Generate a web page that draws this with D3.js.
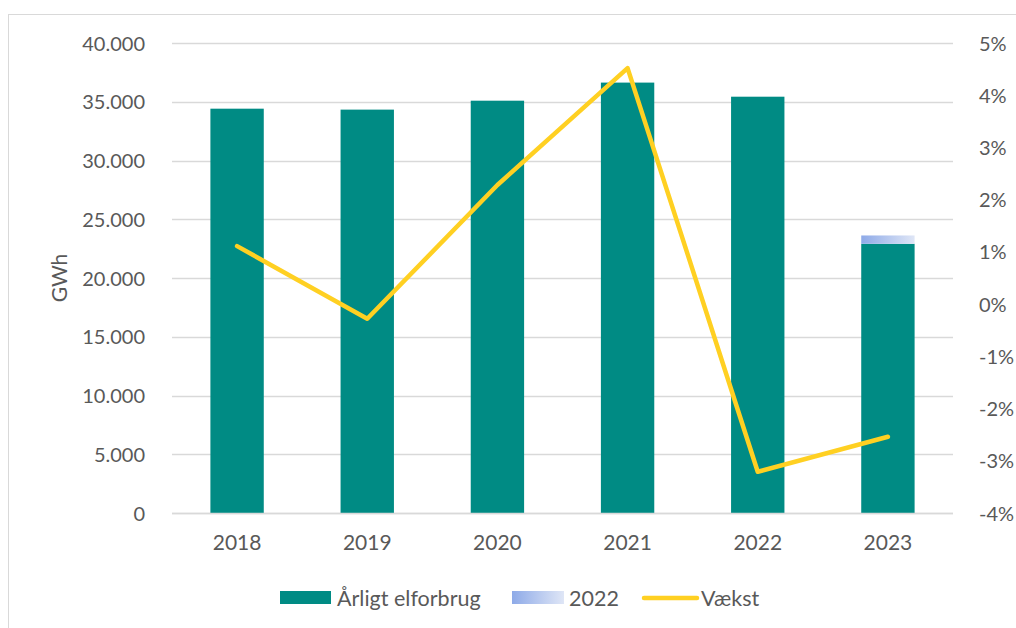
<!DOCTYPE html>
<html>
<head>
<meta charset="utf-8">
<script src="https://cdn.jsdelivr.net/npm/d3@7"></script>
<style>
  body { margin: 0; background: #fff; }
  svg text { font-family: Lato, "Noto Sans", sans-serif; fill: #595959; }
</style>
</head>
<body>
<div id="chart"></div>
<script>
const years = ['2018', '2019', '2020', '2021', '2022', '2023']
const consumption = [34410, 34330, 35090, 36630, 35430, 22910]
const extra2022 = [0, 0, 0, 0, 0, 710]
const growth = [1.11, -0.28, 2.28, 4.52, -3.21, -2.54]
const leftTicks = [0, 5000, 10000, 15000, 20000, 25000, 30000, 35000, 40000]
const rightTicks = [-4, -3, -2, -1, 0, 1, 2, 3, 4, 5]

const width = 1016
const height = 628
const plot = { left: 172, right: 953, top: 43, bottom: 513 }

const svg = d3.select('#chart')
  .append('svg')
    .attr('width', width)
    .attr('height', height)

const defs = svg.append('defs')
const grad = defs.append('linearGradient')
  .attr('id', 'blueGrad')
  .attr('x1', '0%').attr('x2', '100%')
grad.append('stop').attr('offset', '0%').attr('stop-color', '#8eaae8')
grad.append('stop').attr('offset', '100%').attr('stop-color', '#dfe6f6')

// chart frame
svg.append('rect')
  .attr('x', 8.5).attr('y', 14.5)
  .attr('width', 1040).attr('height', 640)
  .attr('fill', 'none')
  .attr('stroke', '#d9d9d9')
  .attr('stroke-width', 1)

const x = d3.scaleBand()
  .domain(years)
  .range([plot.left, plot.right])
  .paddingInner(0.59)
  .paddingOuter(0.295)

const yLeft = d3.scaleLinear()
  .domain([0, 40000])
  .range([plot.bottom, plot.top])

const yRight = d3.scaleLinear()
  .domain([-4, 5])
  .range([plot.bottom, plot.top])

// gridlines
svg.append('g')
  .selectAll('line')
  .data(leftTicks)
  .join('line')
    .attr('x1', plot.left)
    .attr('x2', plot.right)
    .attr('y1', d => Math.round(yLeft(d)) + 0.5)
    .attr('y2', d => Math.round(yLeft(d)) + 0.5)
    .attr('stroke', '#d9d9d9')
    .attr('stroke-width', 1.3)

// left axis
const fmt = d => d3.format(',')(d).replace(/,/g, '.')
svg.append('g')
  .attr('transform', `translate(${plot.left - 24},0)`)
  .call(d3.axisLeft(yLeft).tickValues(leftTicks).tickFormat(fmt).tickSize(0))
  .call(g => g.select('.domain').remove())
  .call(g => g.selectAll('text').attr('font-size', 20).attr('dy', '0.35em'))

// right axis
svg.append('g')
  .attr('transform', `translate(${plot.right + 23},0)`)
  .call(d3.axisRight(yRight).tickValues(rightTicks).tickFormat(d => d + '%').tickSize(0))
  .call(g => g.select('.domain').remove())
  .call(g => g.selectAll('text').attr('font-size', 20).attr('dy', '0.35em'))

// x axis labels
svg.append('g')
  .attr('transform', `translate(0,${plot.bottom + 14})`)
  .call(d3.axisBottom(x).tickSize(0))
  .call(g => g.select('.domain').remove())
  .call(g => g.selectAll('text').attr('font-size', 21).attr('dy', '0.95em'))

// y axis title
svg.append('text')
  .attr('transform', `translate(67,${(plot.top + plot.bottom) / 2}) rotate(-90)`)
  .attr('text-anchor', 'middle')
  .attr('font-size', 21)
  .text('GWh')

// bars
svg.append('g')
  .selectAll('rect')
  .data(years)
  .join('rect')
    .attr('x', d => x(d))
    .attr('width', x.bandwidth())
    .attr('y', (d, i) => yLeft(consumption[i]))
    .attr('height', (d, i) => yLeft(0) - yLeft(consumption[i]))
    .attr('fill', '#008b84')

svg.append('g')
  .selectAll('rect')
  .data(years)
  .join('rect')
    .attr('x', d => x(d))
    .attr('width', x.bandwidth())
    .attr('y', (d, i) => yLeft(consumption[i] + extra2022[i]))
    .attr('height', (d, i) => yLeft(consumption[i]) - yLeft(consumption[i] + extra2022[i]))
    .attr('fill', 'url(#blueGrad)')

// baseline
svg.append('line')
  .attr('x1', plot.left).attr('x2', plot.right)
  .attr('y1', plot.bottom + 0.5).attr('y2', plot.bottom + 0.5)
  .attr('stroke', '#d9d9d9')
  .attr('stroke-width', 1.5)

// growth line
svg.append('path')
  .datum(growth)
  .attr('fill', 'none')
  .attr('stroke', '#ffd022')
  .attr('stroke-width', 4.5)
  .attr('stroke-linejoin', 'round')
  .attr('stroke-linecap', 'round')
  .attr('d', d3.line()
    .x((d, i) => x(years[i]) + x.bandwidth() / 2)
    .y(d => yRight(d))
  )

// legend
const legend = svg.append('g').attr('transform', 'translate(0,598)')
legend.append('rect')
  .attr('x', 280).attr('y', -7).attr('width', 51).attr('height', 13)
  .attr('fill', '#008b84')
legend.append('text')
  .attr('x', 337).attr('dy', '0.35em').attr('font-size', 21.5)
  .text('Årligt elforbrug')
legend.append('rect')
  .attr('x', 512).attr('y', -7).attr('width', 52).attr('height', 13)
  .attr('fill', 'url(#blueGrad)')
legend.append('text')
  .attr('x', 569).attr('dy', '0.35em').attr('font-size', 21.5)
  .text('2022')
legend.append('line')
  .attr('x1', 644).attr('x2', 697)
  .attr('stroke', '#ffd022')
  .attr('stroke-width', 4.5)
  .attr('stroke-linecap', 'round')
legend.append('text')
  .attr('x', 701).attr('dy', '0.35em').attr('font-size', 21.5)
  .text('Vækst')
</script>
</body>
</html>
